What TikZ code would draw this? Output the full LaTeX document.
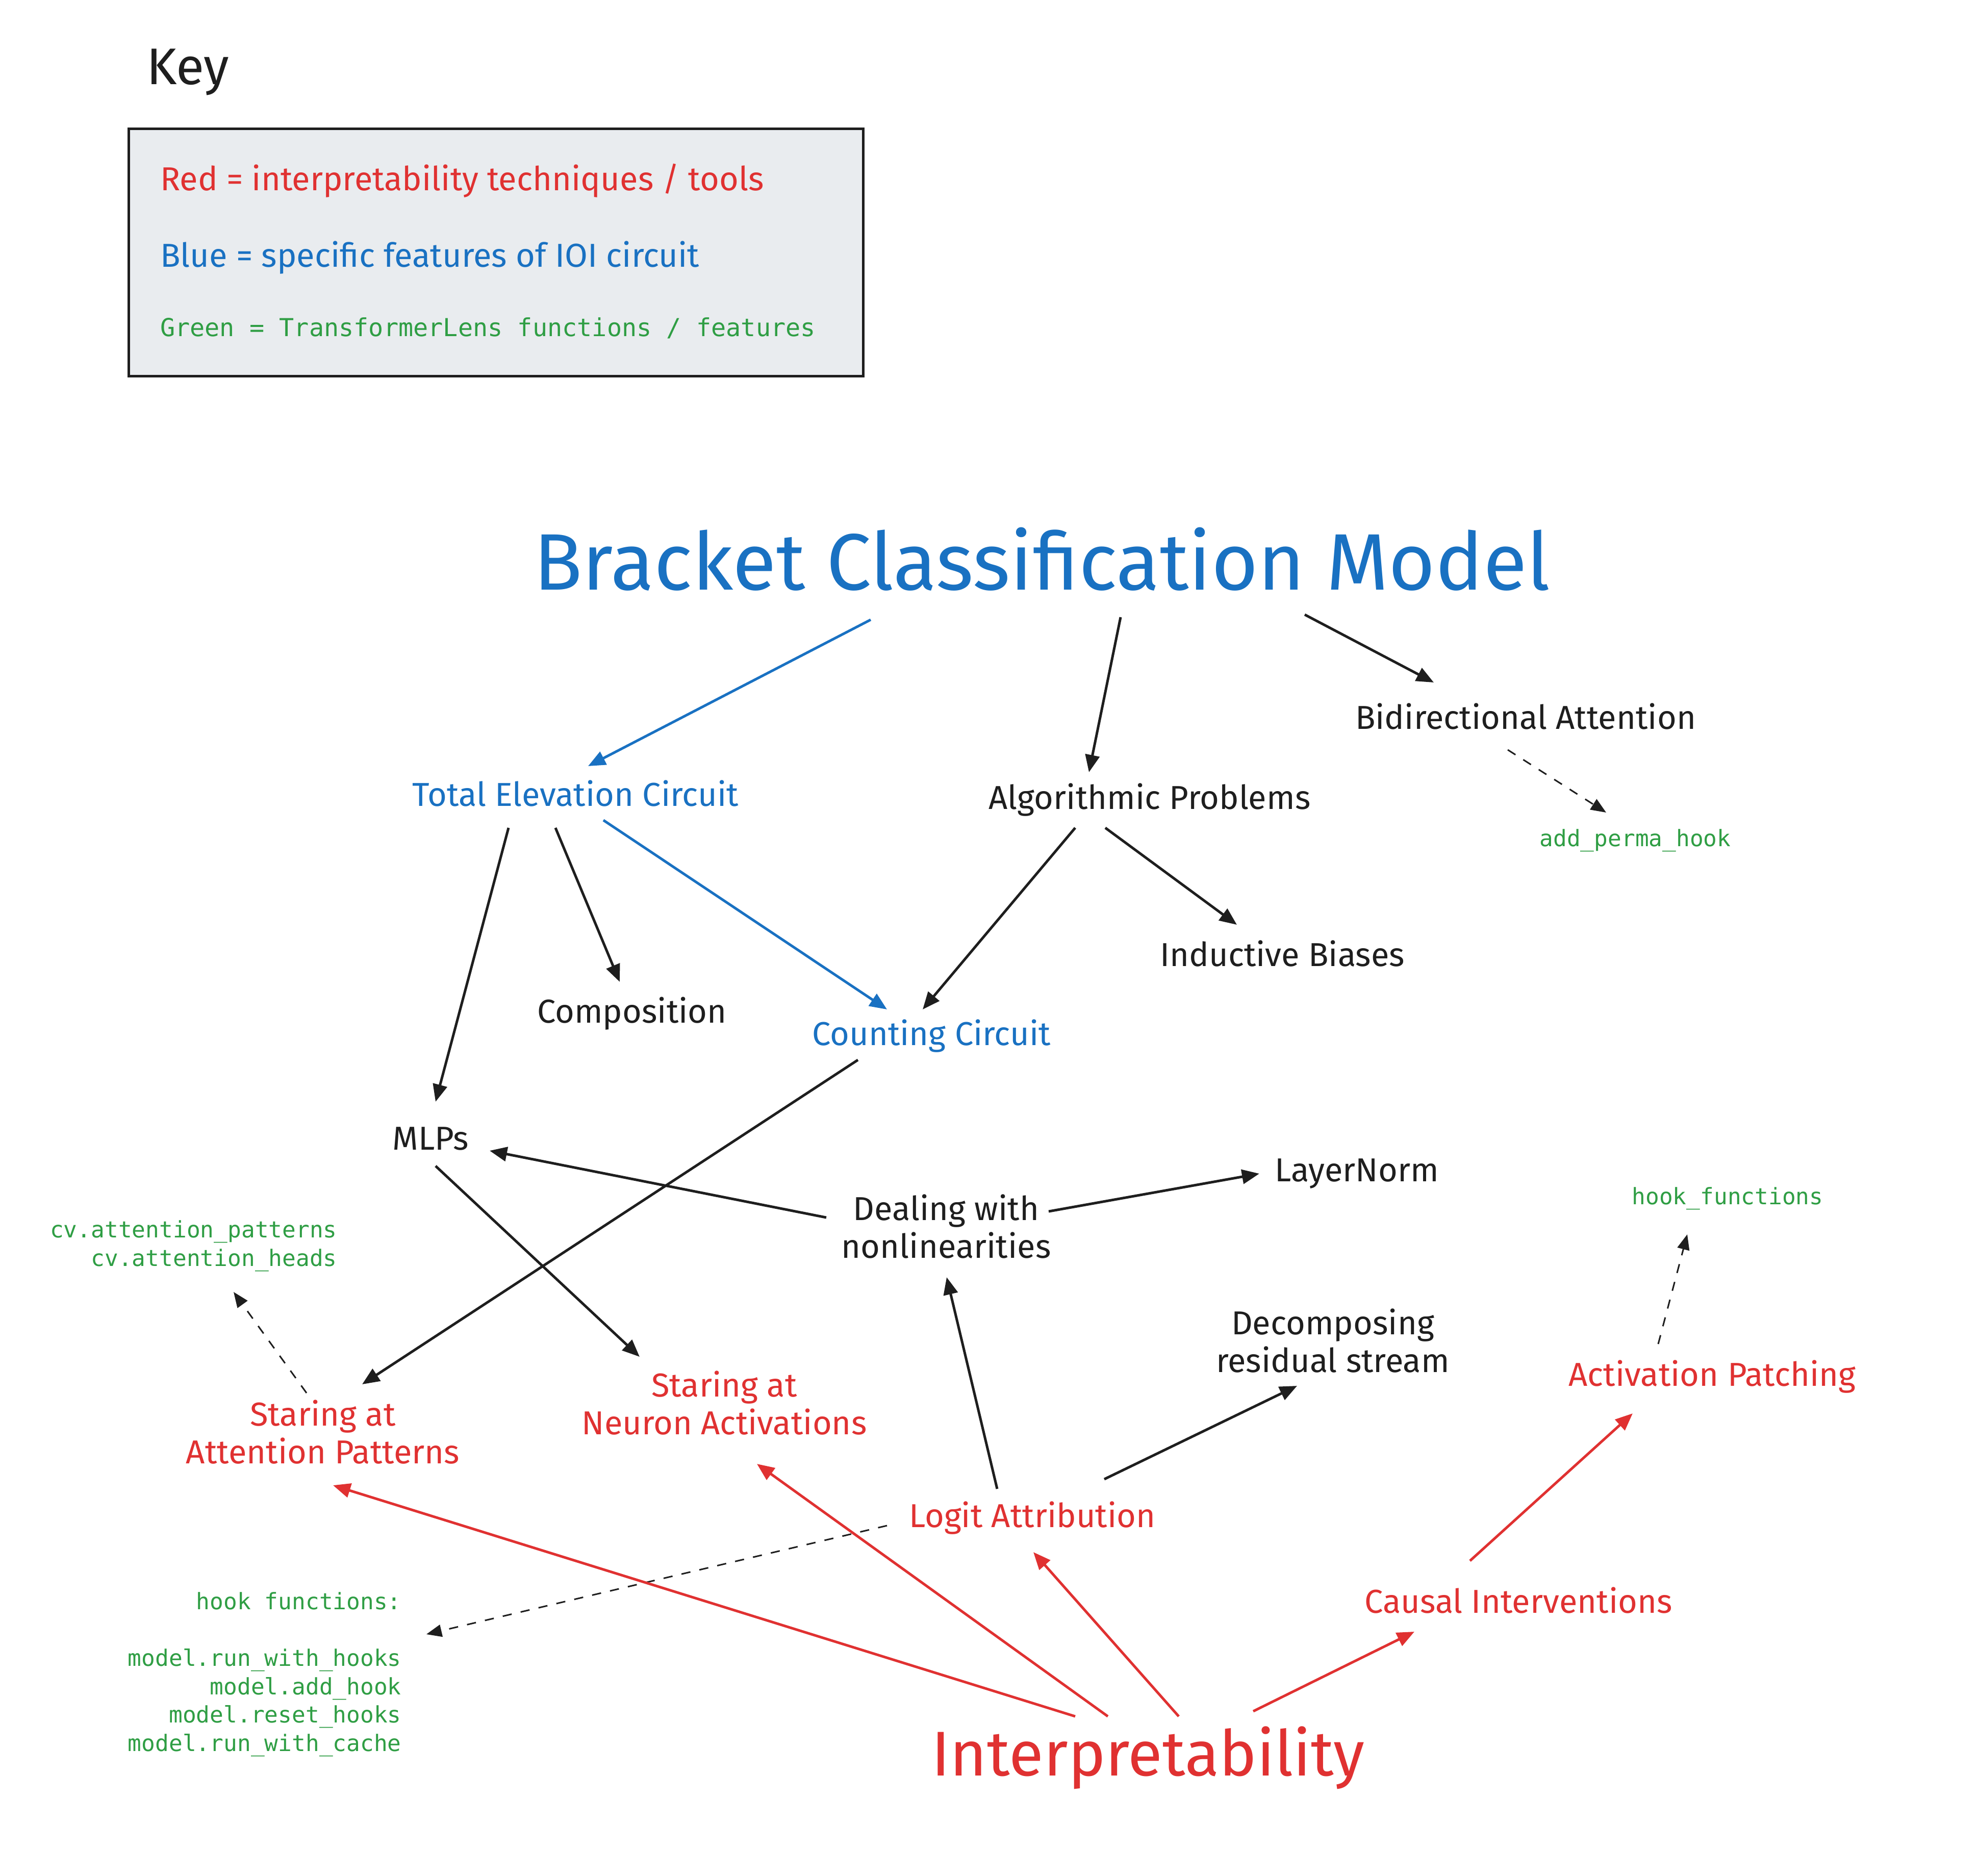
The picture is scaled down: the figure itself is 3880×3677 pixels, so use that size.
\documentclass[tikz,border=0pt]{standalone}
\usepackage{fontspec}
\usetikzlibrary{arrows.meta}
\newfontfamily\handf{Fira Sans}
\newfontfamily\codef{DejaVu Sans Mono}
\definecolor{exred}{HTML}{E03131}
\definecolor{exblue}{HTML}{1971C2}
\definecolor{exgreen}{HTML}{2F9E44}
\definecolor{exblack}{HTML}{1E1E1E}
\definecolor{keyfill}{HTML}{E9ECEF}
\tikzset{
  hand/.style={font=\handf\fontsize{65}{74}\selectfont, inner sep=0pt, text=exblack},
  code/.style={font=\codef\fontsize{44.5}{55.5}\selectfont, inner sep=0pt, text=exgreen},
  rednode/.style={hand, text=exred},
  bluenode/.style={hand, text=exblue},
  tipA/.style={-{Triangle[length=34pt,width=28pt]}},
  blk/.style={tipA, draw=exblack, line width=5pt},
  bluearr/.style={tipA, draw=exblue, line width=5pt},
  redarr/.style={tipA, draw=exred, line width=5pt},
  dasharr/.style={-{Triangle[length=30pt,width=24pt]}, draw=exblack, line width=3pt, dash pattern=on 18pt off 18pt},
}
\begin{document}
\begin{tikzpicture}[x=1pt,y=-1pt]
\fill[white] (0,0) rectangle (3880,3677);
\useasboundingbox (0,0) rectangle (3880,3677);

% Key
\node[hand, anchor=west, font=\handf\fontsize{101}{116}\selectfont] (keylabel) at (287,141) {Key};
\node[draw=exblack, fill=keyfill, line width=5pt, minimum width=1440pt, minimum height=485pt, inner sep=0pt] (keybox) at (972,494.5) {};
\node[rednode, anchor=west] (keyred) at (314,354) {Red = interpretability techniques / tools};
\node[bluenode, anchor=west] (keyblue) at (314,505) {Blue = specific features of IOI circuit};
\node[code, anchor=west, font=\codef\fontsize{48.5}{58}\selectfont] (keygreen) at (314,643) {Green = TransformerLens functions / features};

% Nodes
\node[bluenode, font=\handf\fontsize{157}{180}\selectfont] (bcm) at (2043,1096) {Bracket Classification Model};
\node[bluenode] (tec) at (1128,1556) {Total Elevation Circuit};
\node[hand] (alg) at (2254,1568) {Algorithmic Problems};
\node[hand] (bid) at (2991,1405) {Bidirectional Attention};
\node[code] (aph) at (3206,1648) {add\_perma\_hook};
\node[hand] (ind) at (2514,1870) {Inductive Biases};
\node[hand] (comp) at (1239,1987) {Composition};
\node[bluenode] (cnt) at (1826,2031) {Counting Circuit};
\node[hand] (mlp) at (844,2232) {MLPs};
\node[hand] (ln) at (2660,2301) {LayerNorm};
\node[hand, align=center] (deal) at (1855,2405) {Dealing with\\nonlinearities};
\node[code] (hfr) at (3387,2350) {hook\_functions};
\node[code, align=right, anchor=east] (cv) at (661,2443) {cv.attention\_patterns\\cv.attention\_heads};
\node[hand, align=center] (dec) at (2613,2629) {Decomposing\\residual stream};
\node[rednode] (ap) at (3357,2699) {Activation Patching};
\node[rednode, align=center] (sna) at (1420,2751) {Staring at\\Neuron Activations};
\node[rednode, align=center] (sap) at (633,2808) {Staring at\\Attention Patterns};
\node[rednode] (la) at (2024,2976) {Logit Attribution};
\node[rednode] (ci) at (2977,3137) {Causal Interventions};
\node[code, align=right, anchor=east] (hf) at (787,3283) {hook functions:\\[55.5pt]model.run\_with\_hooks\\model.add\_hook\\model.reset\_hooks\\model.run\_with\_cache};
\node[rednode, font=\handf\fontsize{124}{140}\selectfont] (interp) at (2251,3446) {Interpretability};

% Connectors
\draw[bluearr] ([shift={(-336,119)}]bcm.center) -- ([shift={(25,-54)}]tec.center);
\draw[blk] ([shift={(154,114)}]bcm.center) -- ([shift={(-119,-54)}]alg.center);
\draw[blk] ([shift={(515,109)}]bcm.center) -- ([shift={(-180,-67)}]bid.center);
\draw[dasharr] ([shift={(-35,65)}]bid.center) -- ([shift={(-57,-55)}]aph.center);
\draw[blk] ([shift={(-131,67)}]tec.center) -- ([shift={(10,-72)}]mlp.center);
\draw[blk] ([shift={(-39,67)}]tec.center) -- ([shift={(-24,-62)}]comp.center);
\draw[bluearr] ([shift={(55,52)}]tec.center) -- ([shift={(-87,-52)}]cnt.center);
\draw[blk] ([shift={(-146,55)}]alg.center) -- ([shift={(-17,-52)}]cnt.center);
\draw[blk] ([shift={(-87,55)}]alg.center) -- ([shift={(-89,-57)}]ind.center);
\draw[blk] ([shift={(-144,47)}]cnt.center) -- ([shift={(77,-94)}]sap.center);
\draw[blk] ([shift={(-235,-18)}]deal.center) -- ([shift={(116,24)}]mlp.center);
\draw[blk] ([shift={(201,-30)}]deal.center) -- ([shift={(-191,0)}]ln.center);
\draw[blk] ([shift={(10,54)}]mlp.center) -- ([shift={(-166,-91)}]sna.center);
\draw[blk] ([shift={(-69,-57)}]la.center) -- ([shift={(1,99)}]deal.center);
\draw[blk] ([shift={(141,-76)}]la.center) -- ([shift={(-70,88)}]dec.center);
\draw[dasharr] ([shift={(-32,-77)}]sap.center) -- ([shift={(-203,90)}]cv.east);
\draw[dasharr] ([shift={(-285,15)}]la.center) -- ([shift={(49,-79)}]hf.east);
\draw[dasharr] ([shift={(-106,-64)}]ap.center) -- ([shift={(-79,70)}]hfr.center);
\draw[redarr] ([shift={(-143,-81)}]interp.center) -- ([shift={(20,104)}]sap.center);
\draw[redarr] ([shift={(-79,-81)}]interp.center) -- ([shift={(64,119)}]sna.center);
\draw[redarr] ([shift={(60,-81)}]interp.center) -- ([shift={(2,67)}]la.center);
\draw[redarr] ([shift={(206,-91)}]interp.center) -- ([shift={(-204,62)}]ci.center);
\draw[redarr] ([shift={(-95,-77)}]ci.center) -- ([shift={(-156,72)}]ap.center);
\end{tikzpicture}
\end{document}
